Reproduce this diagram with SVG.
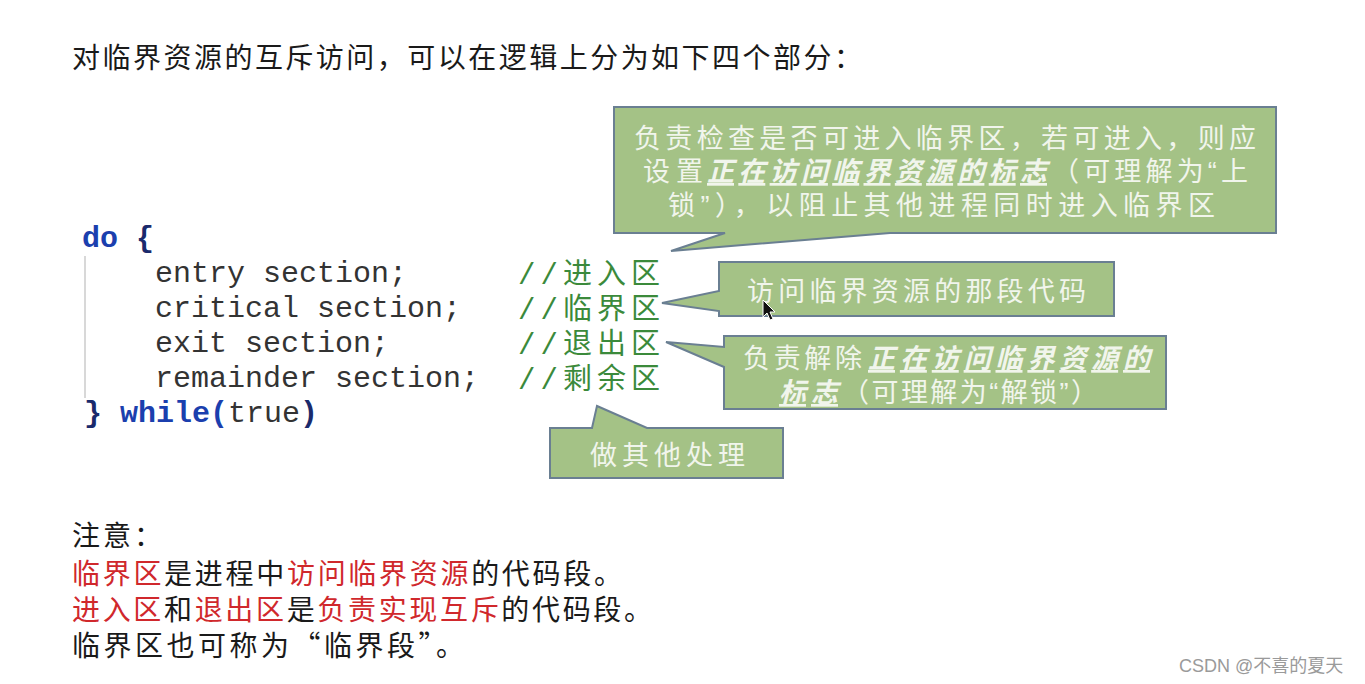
<svg xmlns="http://www.w3.org/2000/svg" width="1365" height="684" viewBox="0 0 1365 684">
<style>
.cjk{font-family:"Liberation Sans","Noto Sans CJK SC",sans-serif;font-size:28px;fill:#1a1a1a}
.fw{font-family:"Noto Sans CJK SC",sans-serif}
.red{fill:#d0282c}
.code{font-family:"Liberation Mono","DejaVu Sans Mono",monospace;font-size:30px;fill:#333}
.kw{fill:#1b3fae;font-weight:bold}
.br{fill:#1a2a6c;font-weight:bold}
.cm{font-family:"Liberation Mono","Noto Sans CJK SC",monospace;font-size:29px;fill:#3b8a3b}
.box{fill:#a4c286;stroke:#6a7f92;stroke-width:2;stroke-linejoin:miter}
.bt{font-family:"Liberation Sans","Noto Sans CJK SC",sans-serif;font-size:27px;fill:#f1f5ec}
.em{font-weight:bold;font-style:italic;text-decoration:underline}
.wm{font-family:"Liberation Sans","Noto Sans CJK SC",sans-serif;font-size:18px;fill:#9a9a9a}
</style>
<rect width="1365" height="684" fill="#ffffff"/>

<g id="title">
<text class="cjk" x="72" y="68" textLength="790" lengthAdjust="spacing">对临界资源的互斥访问，可以在逻辑上分为如下四个部分：</text>
</g>

<g id="code">
<line x1="85" y1="256" x2="85" y2="398" stroke="#d8d8d8" stroke-width="2"/>
<text class="code"><tspan x="82" y="247"><tspan class="kw">do</tspan> <tspan class="br">{</tspan></tspan><tspan x="155" y="282">entry section;</tspan><tspan x="155" y="317">critical section;</tspan><tspan x="155" y="352">exit section;</tspan><tspan x="155" y="387">remainder section;</tspan><tspan x="84" y="422"><tspan class="br">}</tspan> <tspan class="kw">while(</tspan>true<tspan class="br">)</tspan></tspan></text>
</g>

<g id="comments">
<text class="cm"><tspan x="518" y="284" textLength="142" lengthAdjust="spacing">//进入区</tspan><tspan x="518" y="319" textLength="142" lengthAdjust="spacing">//临界区</tspan><tspan x="518" y="354" textLength="142" lengthAdjust="spacing">//退出区</tspan><tspan x="518" y="389" textLength="142" lengthAdjust="spacing">//剩余区</tspan></text>
</g>

<g id="callout-entry">
<path class="box" d="M614,107 H1276 V233 H890 L671,251 L725,233 H614 Z"/>
<text class="bt"><tspan x="634" y="148" textLength="622" lengthAdjust="spacing">负责检查是否可进入临界区，若可进入，则应</tspan><tspan x="643" y="181" textLength="60" lengthAdjust="spacing">设置</tspan><tspan class="em" x="707" y="181" textLength="340" lengthAdjust="spacing">正在访问临界资源的标志</tspan><tspan x="1052" y="181" textLength="196" lengthAdjust="spacing">（可理解为“上</tspan><tspan x="668" y="215" textLength="547" lengthAdjust="spacing">锁”），以阻止其他进程同时进入临界区</tspan></text>
</g>

<g id="callout-critical">
<path class="box" d="M719,262 H1114 V316 H719 V311 L662,303 L719,291 Z"/>
<text class="bt" x="747" y="301" textLength="339" lengthAdjust="spacing">访问临界资源的那段代码</text>
</g>

<g id="callout-exit">
<path class="box" d="M724,336 H1166 V409 H724 V367 L666,342 L724,347 Z"/>
<text class="bt"><tspan x="743" y="368" textLength="119" lengthAdjust="spacing">负责解除</tspan><tspan class="em" x="868" y="368" textLength="282" lengthAdjust="spacing">正在访问临界资源的</tspan><tspan class="em" x="779" y="402" textLength="59" lengthAdjust="spacing">标志</tspan><tspan x="842" y="402" textLength="256" lengthAdjust="spacing">（可理解为“解锁”）</tspan></text>
</g>

<g id="callout-remainder">
<path class="box" d="M550,428 H592 L597,406 L647,428 H783 V478 H550 Z"/>
<text class="bt" x="590" y="465" textLength="155" lengthAdjust="spacing">做其他处理</text>
</g>

<g id="connectors"></g>

<g id="cursor">
<path d="M763,300 L763,317 L767,313 L770,320 L773,319 L770,312 L775,312 Z" fill="#111" stroke="#fff" stroke-width="1"/>
</g>

<g id="notes">
<text class="cjk"><tspan x="72" y="546" textLength="90" lengthAdjust="spacing">注意：</tspan><tspan x="72" y="584" textLength="550" lengthAdjust="spacing"><tspan class="red">临界区</tspan>是进程中<tspan class="red">访问临界资源</tspan>的代码段。</tspan><tspan x="72" y="620" textLength="580" lengthAdjust="spacing"><tspan class="red">进入区</tspan>和<tspan class="red">退出区</tspan>是<tspan class="red">负责实现互斥</tspan>的代码段。</tspan><tspan x="72" y="656" textLength="392" lengthAdjust="spacing">临界区也可称为<tspan class="fw">“</tspan>临界段<tspan class="fw">”</tspan>。</tspan></text>
</g>

<g id="watermark">
<text class="wm" x="1179" y="672">CSDN @不喜的夏天</text>
</g>
</svg>
